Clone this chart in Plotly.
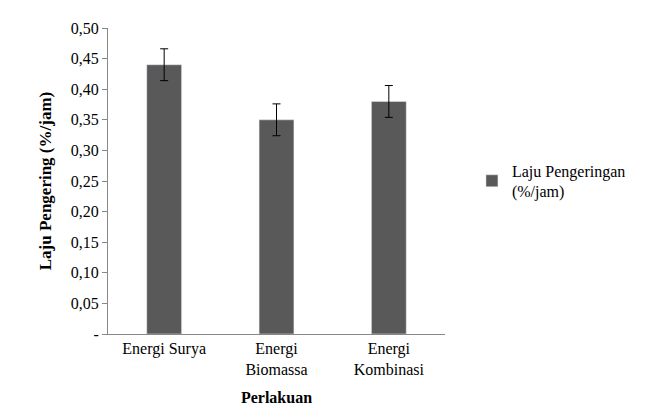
import plotly.graph_objects as go

categories = ["Energi Surya", "Energi<br>Biomassa", "Energi<br>Kombinasi"]
laju = [0.44, 0.35, 0.38]
err = [0.026, 0.026, 0.026]
ytick_vals = [0, 0.05, 0.10, 0.15, 0.20, 0.25, 0.30, 0.35, 0.40, 0.45, 0.50]
ytick_text = ["-", "0,05", "0,10", "0,15", "0,20", "0,25", "0,30", "0,35", "0,40", "0,45", "0,50"]

fig = go.Figure(go.Bar(
    x=categories, y=laju, name="Laju Pengeringan<br>(%/jam)",
    marker_color="#595959",
    error_y=dict(type="data", array=err, color="black", thickness=1, width=4),
))

fig.update_layout(
    width=667, height=418,
    paper_bgcolor="white", plot_bgcolor="white",
    font=dict(family="Liberation Serif", size=16, color="black"),
    margin=dict(l=100, r=230, t=18, b=92),
    bargap=0.69,
    showlegend=True,
    legend=dict(x=1.08, y=0.5, yanchor="middle", font=dict(size=16)),
    xaxis=dict(showline=True, linecolor="#888", ticks="", tickfont=dict(size=16),
               title=dict(text="<b>Perlakuan</b>", font=dict(size=16), standoff=14)),
    yaxis=dict(range=[0, 0.5], tickvals=ytick_vals, ticktext=ytick_text,
               showline=True, linecolor="#888", ticks="outside", ticklen=5,
               tickcolor="#888", showgrid=False, zeroline=False, tickfont=dict(size=16),
               title=dict(text="<b>Laju Pengering (%/jam)</b>", font=dict(size=17), standoff=14)),
)

fig.write_html("out.html")
